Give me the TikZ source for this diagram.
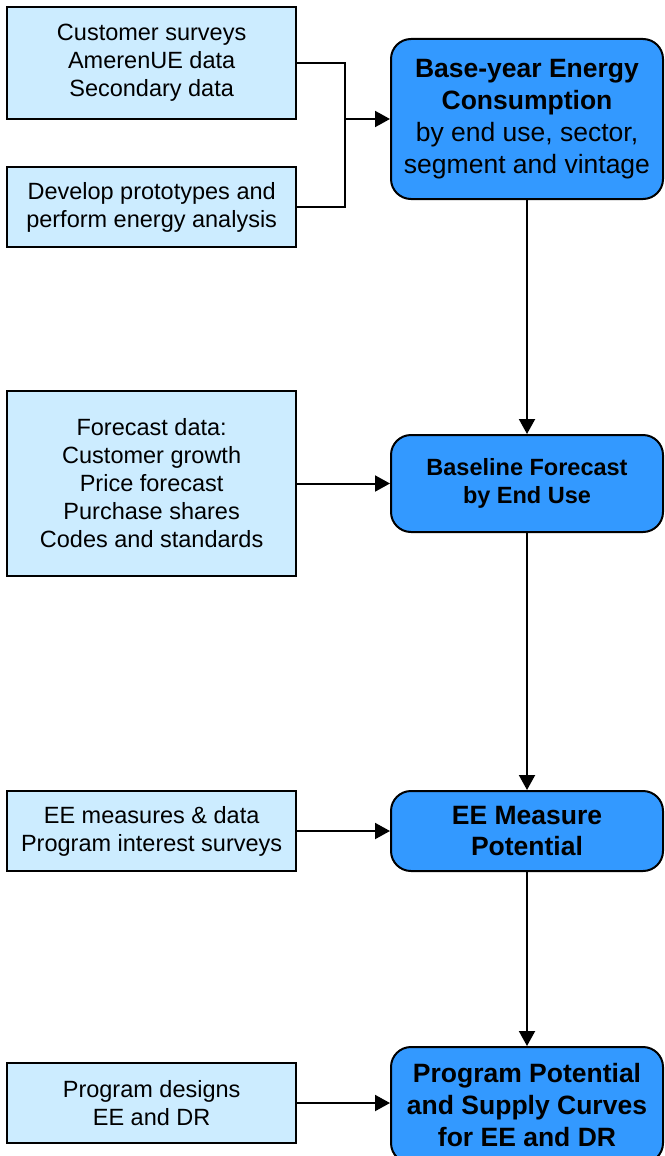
\documentclass[tikz,border=0pt]{standalone}
\usepackage{fontspec}
\setmainfont{Liberation Sans}
\usepackage{xcolor}
\usetikzlibrary{arrows.meta, positioning}

\definecolor{inputfill}{RGB}{204,236,255}
\definecolor{stagefill}{RGB}{51,153,255}

\begin{document}
\begin{tikzpicture}[
    inbox/.style={rectangle, draw=black, fill=inputfill, line width=1.7pt, minimum width=289pt, inner sep=0pt, align=center, font=\fontsize{23.5}{28}\selectfont},
    stagebox/.style={rectangle, draw=black, fill=stagefill, line width=2pt, rounded corners=20pt, minimum width=272pt, inner sep=0pt, align=center, font=\fontsize{26.5}{32}\selectfont},
    line/.style={draw=black, line width=2pt, -{Triangle[length=15pt, width=16pt]}}
]
\useasboundingbox (0,0) rectangle (664pt,-1156pt);

% Main stages
\node[stagebox, minimum height=160pt] (base) at (527pt,-119pt) {\textbf{Base-year Energy}\\\textbf{Consumption}\\by end use, sector,\\segment and vintage};
\node[stagebox, minimum height=97pt, font=\fontsize{23.5}{28}\selectfont\bfseries, below=234pt of base] (forecast) {Baseline Forecast\\by End Use};
\node[stagebox, minimum height=80pt, font=\fontsize{26.5}{31}\selectfont\bfseries, below=257pt of forecast] (measure) {EE Measure\\Potential};
\node[stagebox, minimum height=116pt, font=\fontsize{26.5}{32}\selectfont\bfseries, below=174pt of measure] (program) {Program Potential\\and Supply Curves\\for EE and DR};

% Inputs
\node[inbox, minimum height=112pt, left=93pt of base, yshift=56pt] (surveys) {Customer surveys\\AmerenUE data\\Secondary data};
\node[inbox, minimum height=80pt, left=93pt of base, yshift=-88pt] (protos) {Develop prototypes and\\perform energy analysis};
\node[inbox, minimum height=185pt, left=93pt of forecast] (fcdata) {Forecast data:\\Customer growth\\Price forecast\\Purchase shares\\Codes and standards};
\node[inbox, minimum height=80pt, left=93pt of measure] (eedata) {EE measures \& data\\Program interest surveys};
\node[inbox, minimum height=80pt, left=93pt of program, yshift=2pt] (designs) {Program designs\\EE and DR};

% Connections
\coordinate (join) at ([xshift=48pt]surveys.east |- base.west);
\draw[line width=2pt] (surveys.east) -| (join) |- (protos.east);
\draw[line] (join) -- (base.west);
\draw[line] (base) -- (forecast);
\draw[line] (fcdata) -- (forecast);
\draw[line] (forecast) -- (measure);
\draw[line] (eedata) -- (measure);
\draw[line] (measure) -- (program);
\draw[line] (designs.east) -- (designs.east -| program.west);

\end{tikzpicture}
\end{document}
